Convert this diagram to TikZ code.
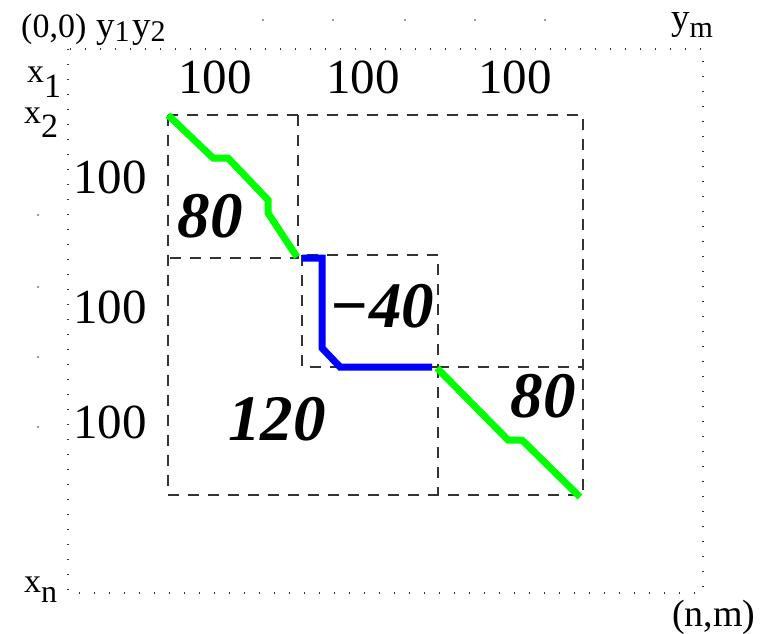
\documentclass[tikz,border=0pt]{standalone}
\usepackage{fontspec}
\setmainfont{Liberation Serif}
\definecolor{pgreen}{RGB}{0,255,0}
\definecolor{pblue}{RGB}{0,0,255}
\begin{document}
\begin{tikzpicture}[x=1pt,y=-1pt,
  lbl/.style={inner sep=0pt, anchor=base west, font=\fontsize{34}{34}\selectfont},
  num/.style={inner sep=0pt, anchor=base, font=\fontsize{49}{49}\selectfont},
  big/.style={inner sep=0pt, anchor=base, font=\fontsize{65}{65}\selectfont\bfseries\itshape},
  box/.style={draw=black!80, line width=1.3pt, dash pattern=on 11pt off 9pt},
  dotline/.style={draw=black!80, line width=1.2pt, dash pattern=on 1.2pt off 13.8pt},
  dot/.style={circle, fill=black!80, inner sep=0pt, minimum size=1.8pt},
  gpath/.style={draw=pgreen, line width=7pt, line join=miter},
  bpath/.style={draw=pblue, line width=7pt, line join=miter}]
\useasboundingbox (0,0) rectangle (766,634);

% dotted frame
\draw[dotline] (68,49) rectangle (703,593);
\foreach \i [count=\k] in {263,333,405,475,545} \node[dot] (t\k) at (\i,20) {};
\foreach \j [count=\k] in {215,287,357,427} \node[dot] (l\k) at (38,\j) {};

% corner labels
\node[lbl] (o) at (21,38) {(0,0)};
\node[lbl, font=\fontsize{37}{37}\selectfont] (y1) at (96,38) {y\raisebox{-4pt}{\fontsize{30}{30}\selectfont 1}};
\node[lbl, font=\fontsize{37}{37}\selectfont] (y2) at (132,38) {y\raisebox{-4pt}{\fontsize{30}{30}\selectfont 2}};
\node[lbl, font=\fontsize{37}{37}\selectfont] (ym) at (671,30) {y\raisebox{-8pt}{\fontsize{30}{30}\selectfont m}};
\node[lbl, font=\fontsize{34}{34}\selectfont] (x1) at (27,83) {x\raisebox{-14pt}{1}};
\node[lbl, font=\fontsize{34}{34}\selectfont] (x2) at (24,123) {x\raisebox{-14pt}{2}};
\node[lbl, font=\fontsize{34}{34}\selectfont] (xn) at (24,592) {x\raisebox{-10pt}{\fontsize{32}{32}\selectfont n}};
\node[lbl, font=\fontsize{38}{38}\selectfont] (nm) at (672,626) {(n,m)};

% sequence lengths
\node[num] (c1) at (215,93) {100};
\node[num] (c2) at (363,93) {100};
\node[num] (c3) at (515,93) {100};
\node[num] (r1) at (110,193) {100};
\node[num] (r2) at (110,323) {100};
\node[num] (r3) at (110,438) {100};

% dashed blocks
\draw[box] (168,115) rectangle (583,495);
\draw[box] (298,115) -- (298,258) -- (168,258);
\draw[box] (302,255) rectangle (438,367);
\draw[box] (438,367) -- (583,367);
\draw[box] (438,367) -- (438,495);

% alignment paths
\draw[gpath] (168,115) -- (213,158) -- (228,158) -- (268,200) -- (268,213) -- (297,257);
\draw[bpath] (302,258) -- (322,258) -- (322,348) -- (340,367) -- (432,367);
\draw[gpath] (437,368) -- (508,440) -- (522,440) -- (580,497);

% scores
\node[big] (s1) at (210,237) {80};
\node[big] (s2) at (382,327) {\char"2212 40};
\node[big] (s3) at (277,440) {120};
\node[big] (s4) at (543,417) {80};
\end{tikzpicture}
\end{document}
